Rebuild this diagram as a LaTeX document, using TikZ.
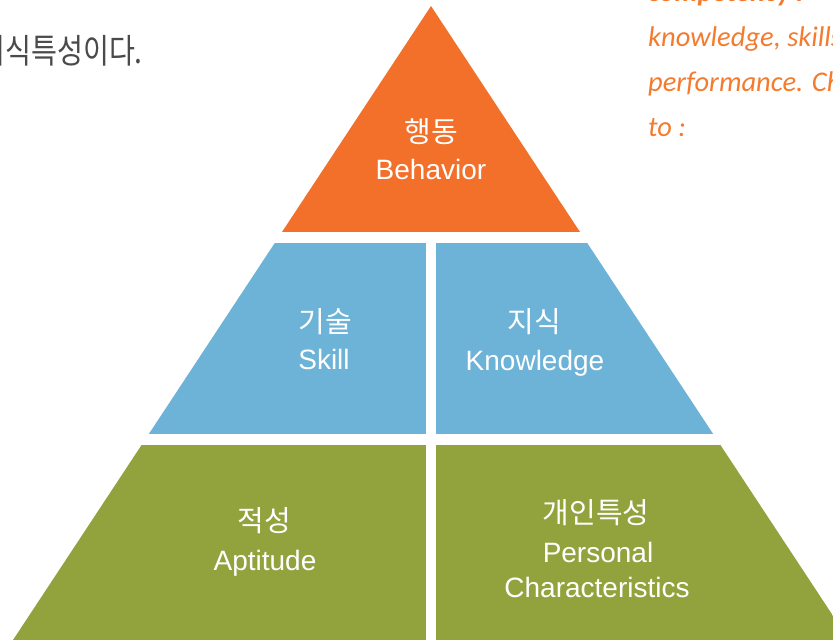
\documentclass[tikz,border=0pt]{standalone}
\usepackage{fontspec}
\setmainfont{Liberation Sans}
\newfontfamily\kr{Noto Sans CJK KR}
\newfontfamily\krthin[FakeStretch=0.83]{Noto Sans CJK KR}
\newfontfamily\note{Carlito}
\definecolor{pyrorange}{HTML}{F27029}
\definecolor{pyrblue}{HTML}{6DB3D7}
\definecolor{pyrgreen}{HTML}{92A33E}
\definecolor{notecolor}{HTML}{F47B2E}
\definecolor{bodytext}{HTML}{4A4A4A}

\begin{document}
\begin{tikzpicture}[x=1pt,y=-1pt,
  kor/.style={white, anchor=base, inner sep=0pt, font=\kr\fontsize{29}{29}\selectfont},
  eng/.style={white, anchor=base, inner sep=0pt, font=\fontsize{28}{28}\selectfont},
  note/.style={notecolor, anchor=base west, inner sep=0pt, font=\note\itshape\fontsize{28.5}{28.5}\selectfont}]
\useasboundingbox (0,0) rectangle (833,640);

%pyramid
\begin{scope}
\clip (431,6) -- (13,640) -- (849,640) -- cycle;
\fill[pyrorange] (0,0) rectangle (833,232);
\foreach \x/\y in {0/426, 436/833}{
  \fill[pyrblue] (\x,243) rectangle (\y,434);
  \fill[pyrgreen] (\x,445) rectangle (\y,640);
}
\end{scope}

%top
\node[kor] (B0) at (431,142) {행동};
\node[eng] (B) at (431,179) {Behavior};
%middle
\node[kor] (S0) at (325,332) {기술};
\node[eng] (S) at (324,369) {Skill};
\node[kor] (K0) at (534,332) {지식};
\node[eng] (K) at (535,370) {Knowledge};
%bottom
\node[kor] (A0) at (264,531) {적성};
\node[eng] (A) at (265,570) {Aptitude};
\node[kor] (P0) at (596,523) {개인특성};
\node[eng] (P) at (598,562) {Personal};
\node[eng] (C) at (597,597) {Characteristics};

%text around
\node[anchor=base west, inner sep=0pt, text=bodytext, font=\krthin\fontsize{34}{34}\selectfont] (T) at (-21,63) {지식특성이다.};
\node[note, font=\note\bfseries\itshape\fontsize{28.5}{28.5}\selectfont] (N0) at (648,1) {competency r};
\node[note] (N1) at (648,46) {knowledge, skills};
\node[note] (N2) at (648,91) {performance. Ch};
\node[note] (N3) at (648,136) {to :};
\end{tikzpicture}
\end{document}
